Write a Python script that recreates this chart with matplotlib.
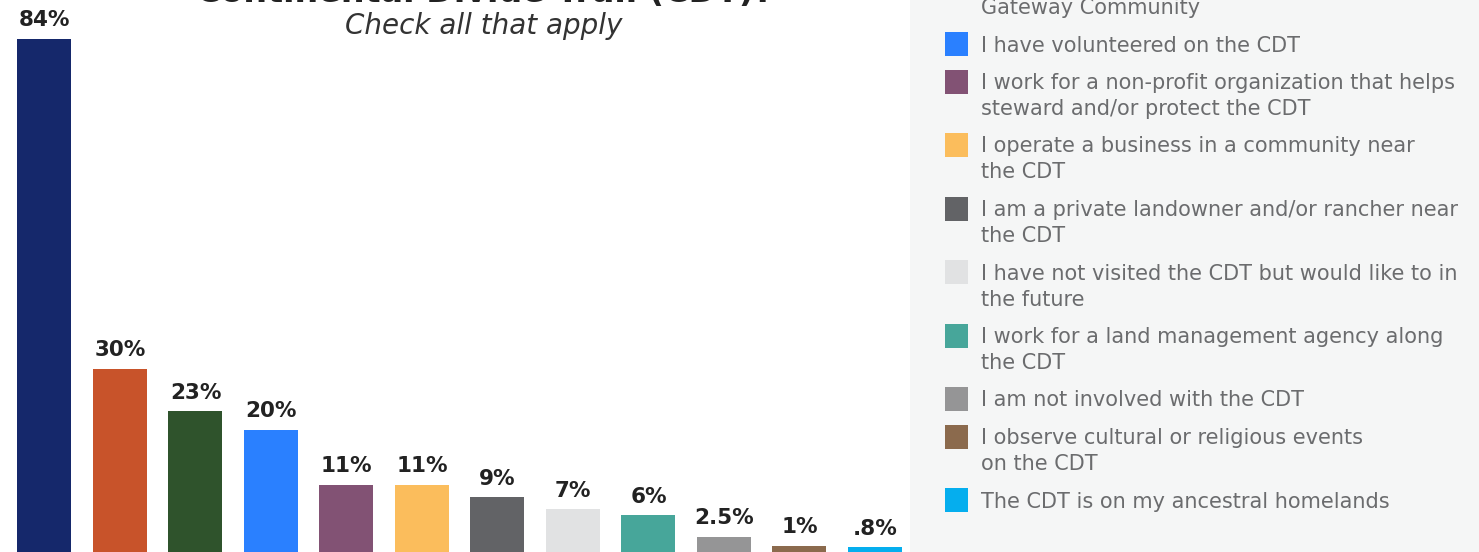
import matplotlib
matplotlib.use('Agg')
import matplotlib.pyplot as plt
from matplotlib.patches import Rectangle

# survey answers, share of respondents (%)
values = [84, 30, 23, 20, 11, 11, 9, 7, 6, 2.5, 1, 0.8]
value_labels = ['84%', '30%', '23%', '20%', '11%', '11%', '9%', '7%', '6%', '2.5%', '1%', '.8%']
categories = [
    'I have hiked, biked or ridden\non the CDT',
    'I have visited the CDT',
    'I live in a CDT\nGateway Community',
    'I have volunteered on the CDT',
    'I work for a non-profit organization that helps\nsteward and/or protect the CDT',
    'I operate a business in a community near\nthe CDT',
    'I am a private landowner and/or rancher near\nthe CDT',
    'I have not visited the CDT but would like to in\nthe future',
    'I work for a land management agency along\nthe CDT',
    'I am not involved with the CDT',
    'I observe cultural or religious events\non the CDT',
    'The CDT is on my ancestral homelands',
]
colors = ['#15286b', '#c8532a', '#2f532c', '#2a80ff', '#825274', '#fbbd5c',
          '#626366', '#e1e2e3', '#47a69a', '#959596', '#8b6a4d', '#05aeee']

W, H = 1479, 552
fig = plt.figure(figsize=(W / 100, H / 100), dpi=100)
fig.patch.set_facecolor('white')

# overlay in pixel units for the title and the legend panel
bg = fig.add_axes([0, 0, 1, 1])
bg.set_xlim(0, W)
bg.set_ylim(H, 0)
bg.axis('off')
bg.add_patch(Rectangle((910, 0), W - 910, H, color='#f5f6f6', lw=0))

bg.text(485, 2, 'What is your relationship to the\nContinental Divide Trail (CDT)?',
        ha='center', va='baseline', fontsize=24, fontweight='bold', color='#222222',
        linespacing=1.3)
bg.text(484, 26, 'Check all that apply', ha='center', va='center', fontsize=20,
        style='italic', fontweight='light', color='#333333')

# legend, stacked so "I have volunteered" sits at y=44
step1, line_h = 37.5, 26
ys = [0.0]
for lab in categories[:-1]:
    ys.append(ys[-1] + step1 + line_h * (lab.count('\n')))
shift = 44 - ys[3]
for lab, col, y0 in zip(categories, colors, ys):
    y0 = y0 + shift
    if y0 + line_h * lab.count('\n') < -15:
        continue
    bg.add_patch(Rectangle((945, y0 - 12), 23, 24, color=col, lw=0))
    for k, line in enumerate(lab.split('\n')):
        bg.text(981, y0 + k * line_h + 7.5, line, ha='left', va='baseline',
                fontsize=15, color='#6b6c6e')

# bars
ax = fig.add_axes([0, 0, 910 / W, 1])
ax.patch.set_alpha(0)
x = list(range(len(values)))
ax.bar(x, values, width=0.715, color=colors)
ax.set_xlim(-0.589, -0.589 + 910 / 75.5)
ax.set_ylim(0, H / 6.11)
for xi, v, lab in zip(x, values, value_labels):
    ax.annotate(lab, (xi, v), xytext=(0, 9), textcoords='offset points',
                ha='center', va='baseline', fontsize=15.5, fontweight='bold',
                color='#222222')
ax.axis('off')

fig.savefig('out.png', dpi=100)
